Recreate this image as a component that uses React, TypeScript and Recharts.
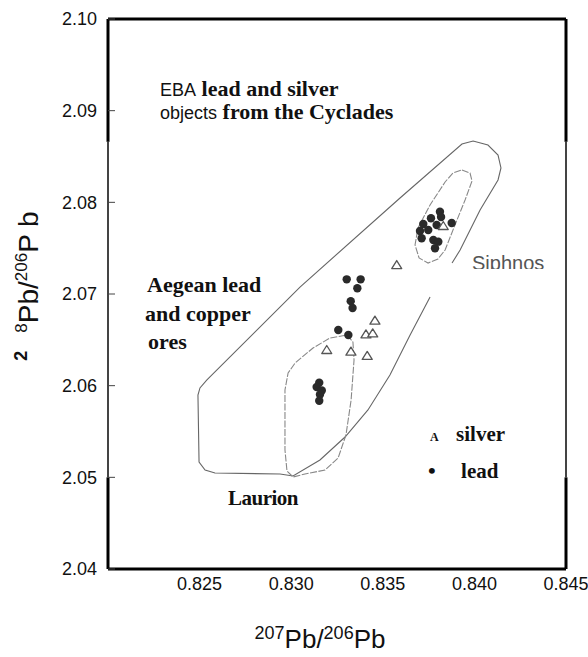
import React from 'react';
import { ScatterChart, Scatter, XAxis, YAxis, ReferenceLine, ReferenceDot } from 'recharts';

// 207Pb/206Pb (x) vs 208Pb/206Pb (y)
const xTicks = [0.825, 0.83, 0.835, 0.84, 0.845];
const yTicks = [2.04, 2.05, 2.06, 2.07, 2.08, 2.09, 2.1];

const leadObjects = [
  { x: 0.83303, y: 2.0716 },
  { x: 0.83379, y: 2.0716 },
  { x: 0.83361, y: 2.07062 },
  { x: 0.83325, y: 2.06922 },
  { x: 0.83335, y: 2.06847 },
  { x: 0.83257, y: 2.06607 },
  { x: 0.83312, y: 2.06553 },
  { x: 0.83153, y: 2.06033 },
  { x: 0.83139, y: 2.05986 },
  { x: 0.83167, y: 2.05947 },
  { x: 0.83157, y: 2.05904 },
  { x: 0.83153, y: 2.05836 },
  { x: 0.83812, y: 2.07898 },
  { x: 0.83818, y: 2.0784 },
  { x: 0.83763, y: 2.07826 },
  { x: 0.83721, y: 2.07764 },
  { x: 0.83703, y: 2.07687 },
  { x: 0.83748, y: 2.07698 },
  { x: 0.83712, y: 2.07608 },
  { x: 0.83776, y: 2.07589 },
  { x: 0.83803, y: 2.07571 },
  { x: 0.83785, y: 2.07499 },
  { x: 0.83876, y: 2.07775 },
  { x: 0.83794, y: 2.07753 },
];

const silverObjects = [
  { x: 0.83576, y: 2.07316 },
  { x: 0.83457, y: 2.06709 },
  { x: 0.83408, y: 2.0656 },
  { x: 0.83445, y: 2.06571 },
  { x: 0.83194, y: 2.06389 },
  { x: 0.83326, y: 2.06371 },
  { x: 0.83415, y: 2.06324 },
  { x: 0.8383, y: 2.07742 },
];

// Aegean ore field (outline is cut where the legend panel covers it)
const aegeanField = [
  { x: 0.83758, y: 2.06967 },
  { x: 0.83649, y: 2.06553 },
  { x: 0.83539, y: 2.06116 },
  { x: 0.83419, y: 2.05735 },
  { x: 0.83294, y: 2.0544 },
  { x: 0.83157, y: 2.05189 },
  { x: 0.8301, y: 2.05015 },
  { x: 0.82939, y: 2.05036 },
  { x: 0.82584, y: 2.05047 },
  { x: 0.8253, y: 2.0508 },
  { x: 0.82497, y: 2.05167 },
  { x: 0.82491, y: 2.05898 },
  { x: 0.82502, y: 2.05975 },
  { x: 0.8254, y: 2.06062 },
  { x: 0.83048, y: 2.07076 },
  { x: 0.83594, y: 2.08047 },
  { x: 0.83932, y: 2.08636 },
  { x: 0.83993, y: 2.08669 },
  { x: 0.84074, y: 2.08625 },
  { x: 0.84129, y: 2.08516 },
  { x: 0.84145, y: 2.08375 },
  { x: 0.84129, y: 2.08244 },
  { x: 0.84031, y: 2.07916 },
  { x: 0.83922, y: 2.0748 },
  { x: 0.83878, y: 2.07338 },
];

const laurionField = [
  { x: 0.83305, y: 2.06553 },
  { x: 0.83337, y: 2.06476 },
  { x: 0.83343, y: 2.0628 },
  { x: 0.83327, y: 2.05844 },
  { x: 0.83299, y: 2.05462 },
  { x: 0.83256, y: 2.05211 },
  { x: 0.83185, y: 2.0508 },
  { x: 0.83075, y: 2.05036 },
  { x: 0.8301, y: 2.05004 },
  { x: 0.82977, y: 2.05069 },
  { x: 0.82966, y: 2.05298 },
  { x: 0.82966, y: 2.05953 },
  { x: 0.82983, y: 2.06138 },
  { x: 0.83021, y: 2.06247 },
  { x: 0.83119, y: 2.06411 },
  { x: 0.83212, y: 2.0652 },
  { x: 0.83305, y: 2.06553 },
];

const siphnosField = [
  { x: 0.83932, y: 2.08353 },
  { x: 0.83976, y: 2.0832 },
  { x: 0.83987, y: 2.08233 },
  { x: 0.83949, y: 2.08025 },
  { x: 0.83894, y: 2.07753 },
  { x: 0.8384, y: 2.0748 },
  { x: 0.83801, y: 2.07382 },
  { x: 0.83747, y: 2.07338 },
  { x: 0.83698, y: 2.07393 },
  { x: 0.83676, y: 2.07535 },
  { x: 0.83692, y: 2.0772 },
  { x: 0.83758, y: 2.07971 },
  { x: 0.8384, y: 2.08222 },
  { x: 0.83883, y: 2.0832 },
  { x: 0.83932, y: 2.08353 },
];

const SANS = '"Liberation Sans", Arial, sans-serif';
const SERIF = '"Liberation Serif", "Times New Roman", serif';

const LeadDot = (p: any) => <circle cx={p.cx} cy={p.cy} r={4.2} fill="#2a2a2a" />;

const SilverTri = (p: any) => {
  const { cx, cy } = p;
  return (
    <polygon
      points={`${cx},${cy - 4.5} ${cx + 5},${cy + 3.5} ${cx - 5},${cy + 3.5}`}
      fill="#fff"
      stroke="#555"
      strokeWidth={1.3}
      strokeLinejoin="round"
    />
  );
};

const NoMark = () => <g />;

const EbaNote = (p: any) => (
  <g fill="#111">
    <text x={p.cx} y={p.cy}>
      <tspan fontFamily={SANS} fontSize={18}>EBA</tspan>
      <tspan fontFamily={SERIF} fontWeight="bold" fontSize={22}>{' lead and silver'}</tspan>
    </text>
    <text x={p.cx} y={p.cy + 23}>
      <tspan fontFamily={SANS} fontSize={18}>objects</tspan>
      <tspan fontFamily={SERIF} fontWeight="bold" fontSize={22}>{' from the Cyclades'}</tspan>
    </text>
  </g>
);

const AegeanNote = (p: any) => (
  <text x={p.cx} y={p.cy} fill="#111" fontFamily={SERIF} fontWeight="bold" fontSize={22}>
    <tspan x={p.cx}>Aegean lead</tspan>
    <tspan x={p.cx - 2} dy={29}>and copper</tspan>
    <tspan x={p.cx + 1} dy={28}>ores</tspan>
  </text>
);

const LaurionNote = (p: any) => (
  <text x={p.cx} y={p.cy} fill="#111" fontFamily={SERIF} fontWeight="bold" fontSize={21} letterSpacing={-0.5}>
    Laurion
  </text>
);

const SiphnosNote = (p: any) => (
  <g>
    <defs>
      <clipPath id="siphnos-clip">
        <rect x={p.cx - 5} y={p.cy - 30} width={100} height={29} />
      </clipPath>
    </defs>
    <text x={p.cx} y={p.cy} fill="#555" fontFamily={SANS} fontSize={20} clipPath="url(#siphnos-clip)">
      Siphnos
    </text>
  </g>
);

const LegendNote = (p: any) => (
  <g fill="#111" fontFamily={SERIF} fontWeight="bold">
    <text x={p.cx} y={p.cy} fontSize={12}>A</text>
    <text x={p.cx + 26} y={p.cy} fontSize={21}>silver</text>
    <text x={p.cx - 2} y={p.cy + 37} fontSize={22}>•</text>
    <text x={p.cx + 31} y={p.cy + 37} fontSize={21}>lead</text>
  </g>
);

const XTitle = (props: any) => {
  const vb = props.viewBox || { x: 108, y: 569, width: 458, height: 40 };
  const x = vb.x + vb.width / 2 - 17;
  const y = vb.y + vb.height + 39;
  return (
    <text x={x} y={y} textAnchor="middle" fontFamily={SANS} fontSize={26} fill="#111">
      <tspan fontSize={18} dy={-9}>207</tspan>
      <tspan dy={9}>Pb/</tspan>
      <tspan fontSize={18} dy={-9}>206</tspan>
      <tspan dy={9}>Pb</tspan>
    </text>
  );
};

const YTitle = (props: any) => {
  const vb = props.viewBox || { x: 48, y: 19, width: 60, height: 550 };
  const x = vb.x - 10;
  const y = vb.y + vb.height / 2 - 8;
  return (
    <text
      x={x}
      y={y}
      transform={`rotate(-90 ${x} ${y})`}
      textAnchor="middle"
      fontFamily={SANS}
      fontSize={28}
      fill="#111"
    >
      <tspan fontSize={18} fontWeight="bold" dy={-11}>2</tspan>
      <tspan fontSize={17} dx={18}>8</tspan>
      <tspan dy={11}>Pb/</tspan>
      <tspan fontSize={17} dy={-11}>206</tspan>
      <tspan dy={11}>P b</tspan>
    </text>
  );
};

const tickFont = { fontFamily: SANS, fontSize: 18, fill: '#111' };
const boxBlack = { stroke: '#000', strokeWidth: 3, ifOverflow: 'visible' as const };
const boxGrey = { stroke: '#444', strokeWidth: 2, ifOverflow: 'visible' as const };

export default function App() {
  return (
    <div style={{ position: 'absolute', left: 0, top: 0, width: 588, height: 657, background: '#fff' }}>
      <ScatterChart width={588} height={657} margin={{ top: 18, right: 21, bottom: 48, left: 48 }}>
        <XAxis
          type="number"
          dataKey="x"
          domain={[0.82, 0.845]}
          ticks={xTicks}
          interval={0}
          allowDataOverflow
          tickFormatter={(v: number) => v.toFixed(3)}
          axisLine={false}
          tickLine={false}
          tickSize={0}
          tickMargin={8}
          tick={tickFont}
          height={40}
          label={<XTitle />}
        />
        <XAxis
          xAxisId="top"
          orientation="top"
          type="number"
          domain={[0.82, 0.845]}
          ticks={[0.825]}
          interval={0}
          tickFormatter={() => ''}
          axisLine={false}
          tickLine={{ stroke: '#444' }}
          tickSize={-7}
          height={1}
        />
        <YAxis
          type="number"
          dataKey="y"
          domain={[2.04, 2.1]}
          ticks={yTicks}
          interval={0}
          allowDataOverflow
          tickFormatter={(v: number) => v.toFixed(2)}
          axisLine={false}
          tickLine={{ stroke: '#444' }}
          tickSize={-7}
          tickMargin={18}
          tick={tickFont}
          width={60}
          label={<YTitle />}
        />
        <YAxis
          yAxisId="right"
          orientation="right"
          type="number"
          domain={[2.04, 2.1]}
          ticks={[2.06, 2.07, 2.08]}
          interval={0}
          tickFormatter={() => ''}
          axisLine={false}
          tickLine={{ stroke: '#444' }}
          tickSize={-7}
          width={1}
        />

        <Scatter data={aegeanField} line={{ stroke: '#666', strokeWidth: 1.1 }} shape={NoMark} isAnimationActive={false} />
        <Scatter
          data={laurionField}
          line={{ stroke: '#888', strokeWidth: 1.1, strokeDasharray: '7 1.5' }}
          shape={NoMark}
          isAnimationActive={false}
        />
        <Scatter
          data={siphnosField}
          line={{ stroke: '#888', strokeWidth: 1.1, strokeDasharray: '7 1.5' }}
          shape={NoMark}
          isAnimationActive={false}
        />
        <Scatter data={leadObjects} shape={LeadDot} isAnimationActive={false} />
        <Scatter data={silverObjects} shape={SilverTri} isAnimationActive={false} />

        <ReferenceLine y={2.1} {...boxBlack} />
        <ReferenceLine y={2.04} {...boxBlack} />
        <ReferenceLine segment={[{ x: 0.82, y: 2.1 }, { x: 0.82, y: 2.0866 }]} {...boxBlack} />
        <ReferenceLine segment={[{ x: 0.82, y: 2.0866 }, { x: 0.82, y: 2.05 }]} {...boxGrey} />
        <ReferenceLine segment={[{ x: 0.82, y: 2.05 }, { x: 0.82, y: 2.04 }]} {...boxBlack} />
        <ReferenceLine segment={[{ x: 0.845, y: 2.1 }, { x: 0.845, y: 2.0866 }]} {...boxBlack} />
        <ReferenceLine segment={[{ x: 0.845, y: 2.0866 }, { x: 0.845, y: 2.05 }]} {...boxGrey} />
        <ReferenceLine segment={[{ x: 0.845, y: 2.05 }, { x: 0.845, y: 2.04 }]} {...boxBlack} />

        <ReferenceDot x={0.82284} y={2.0916} shape={EbaNote} />
        <ReferenceDot x={0.82213} y={2.07022} shape={AegeanNote} />
        <ReferenceDot x={0.82655} y={2.04698} shape={LaurionNote} />
        <ReferenceDot x={0.83987} y={2.07262} shape={SiphnosNote} />
        <ReferenceDot x={0.83758} y={2.05396} shape={LegendNote} />
      </ScatterChart>
    </div>
  );
}
